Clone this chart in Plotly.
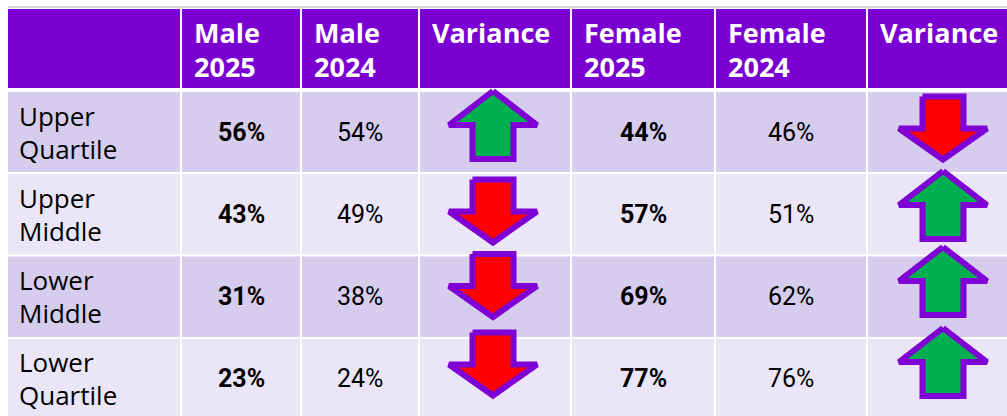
import plotly.graph_objects as go

# ---------------- data ----------------
headers = ["", "Male<br>2025", "Male<br>2024", "Variance", "Female<br>2025", "Female<br>2024", "Variance"]
categories = ["Upper<br>Quartile", "Upper<br>Middle", "Lower<br>Middle", "Lower<br>Quartile"]
male_2025 = [56, 43, 31, 23]
male_2024 = [54, 49, 38, 24]
female_2025 = [44, 57, 69, 77]
female_2024 = [46, 51, 62, 76]

# ---------------- layout constants ----------------
W, H = 1007, 416
col_x0 = [8, 182, 302, 420, 572, 716, 868]
col_x1 = [180, 300, 418, 570, 714, 866, 1012]
head_y = (9, 88)
row_y0 = [92, 174, 256.5, 339]
row_y1 = [172, 254.5, 337, 422]

HEAD_BG = "#7A00D2"
ROW_BG = ["#D6CCEE", "#EAE5F7", "#D6CCEE", "#EAE5F7"]
ARROW_EDGE = "#7F00D4"
UP_FILL = "#00B050"
DOWN_FILL = "#FF0000"

HEAD_FONT = dict(family="Open Sans", size=27, color="white", weight="bold")
CAT_FONT = dict(family="Open Sans", size=26, color="#000000")
VAL_FONT_B = dict(family="Roboto", size=25, color="#000000", weight="bold")
VAL_FONT = dict(family="Roboto", size=25, color="#000000")

# arrow centres (pixel layout)
male_arrow_x = 493
female_arrow_x = 943
male_arrow_cy = [125, 211, 285.5, 364]
female_arrow_cy = [128, 205, 281, 362]

fig = go.Figure()
shapes = []
annotations = []

# top grey rule
shapes.append(dict(type="line", xref="x", yref="y", x0=8, x1=1007, y0=7, y1=7,
                   line=dict(color="#C8C8C8", width=1.5), layer="below"))

# header cells
for i in range(len(headers)):
    shapes.append(dict(type="rect", xref="x", yref="y", x0=col_x0[i], x1=col_x1[i],
                       y0=head_y[0], y1=head_y[1], fillcolor=HEAD_BG, line=dict(width=0),
                       layer="below"))
    if headers[i]:
        lines = headers[i].split("<br>")
        for k, ln in enumerate(lines):
            annotations.append(dict(x=col_x0[i] + 10, y=32 + 34 * k, xref="x", yref="y",
                                    text=ln, showarrow=False, xanchor="left", yanchor="middle",
                                    font=HEAD_FONT))

# body cells
for r in range(len(categories)):
    for i in range(len(headers)):
        shapes.append(dict(type="rect", xref="x", yref="y", x0=col_x0[i], x1=col_x1[i],
                           y0=row_y0[r], y1=row_y1[r], fillcolor=ROW_BG[r], line=dict(width=0),
                           layer="below"))
    cy = (row_y0[r] + min(row_y1[r], 420)) / 2
    if r == 3:
        cy = 378
    lines = categories[r].split("<br>")
    for k, ln in enumerate(lines):
        annotations.append(dict(x=17, y=cy - 16.5 + 33 * k, xref="x", yref="y", text=ln,
                                showarrow=False, xanchor="left", yanchor="middle", font=CAT_FONT))
    vals = [(1, male_2025[r], True), (2, male_2024[r], False),
            (4, female_2025[r], True), (5, female_2024[r], False)]
    for ci, v, bold in vals:
        annotations.append(dict(x=(col_x0[ci] + col_x1[ci]) / 2, y=cy, xref="x", yref="y",
                                text=f"{v}%", showarrow=False, xanchor="center", yanchor="middle",
                                font=VAL_FONT_B if bold else VAL_FONT))


def arrow(cx, cy, up):
    hw, sw = 44, 20.5
    if up:
        head, shaft = 34, 34
        top = cy - (head + shaft) / 2
        base = top + head
        bot = top + head + shaft
        xs = [cx, cx + hw, cx + sw, cx + sw, cx - sw, cx - sw, cx - hw, cx]
        ys = [top, base, base, bot, bot, base, base, top]
    else:
        head, shaft = 31, 32
        top = cy - (head + shaft) / 2
        base = top + shaft
        tip = top + shaft + head
        xs = [cx - sw, cx + sw, cx + sw, cx + hw, cx, cx - hw, cx - sw, cx - sw]
        ys = [top, top, base, base, tip, base, base, top]
    return go.Scatter(x=xs, y=ys, mode="lines", fill="toself",
                      fillcolor=UP_FILL if up else DOWN_FILL,
                      line=dict(color=ARROW_EDGE, width=6), hoverinfo="skip", showlegend=False)


for r in range(len(categories)):
    fig.add_trace(arrow(male_arrow_x, male_arrow_cy[r], male_2025[r] > male_2024[r]))
    fig.add_trace(arrow(female_arrow_x, female_arrow_cy[r], female_2025[r] > female_2024[r]))

fig.update_layout(
    width=W, height=H, autosize=False,
    margin=dict(l=0, r=0, t=0, b=0, pad=0),
    paper_bgcolor="white", plot_bgcolor="white",
    xaxis=dict(range=[0, W], visible=False, fixedrange=True),
    yaxis=dict(range=[H, 0], visible=False, fixedrange=True),
    shapes=shapes, annotations=annotations, showlegend=False,
)

fig.write_html("out.html", include_plotlyjs=True, config={"displayModeBar": False},
               post_script="document.body.style.margin='0';document.body.style.overflow='hidden';")
